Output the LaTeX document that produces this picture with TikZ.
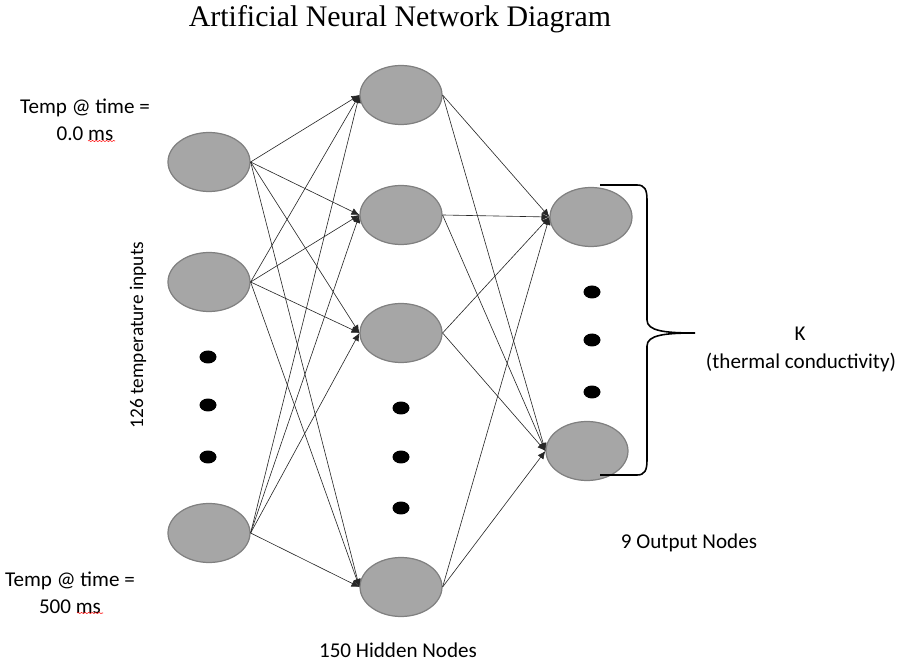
\documentclass[tikz,border=0pt]{standalone}
\usepackage{fontspec}
\setmainfont{Carlito}
\newfontfamily\titlefont{Liberation Serif}
\usetikzlibrary{arrows.meta,positioning,calc,shapes,decorations.pathmorphing}
\tikzset{>={Latex[length=4.5pt,width=4pt]}}
\tikzset{
  neuron/.style={ellipse,draw=black!50,line width=0.7pt,fill=black!35,
    minimum width=1.64cm,minimum height=1.18cm,inner sep=0pt},
  vdot/.style={ellipse,fill=black,minimum width=0.34cm,minimum height=0.26cm,inner sep=0pt},
  lbl/.style={font=\fontsize{12}{14.5}\selectfont,inner sep=0pt}
}

\begin{document}
\begin{tikzpicture}[x=0.02cm,y=-0.02cm]
\useasboundingbox (0,0) rectangle (903,665);
\node[font=\titlefont\fontsize{17}{20}\selectfont] (title) at (400,19) {Artificial Neural Network Diagram};
% input layer
\node[neuron] (i1) at (209,162) {};
\node[neuron] (i2) at (209,282) {};
\node[neuron] (i3) at (209,533) {};
\node[vdot] (id1) at (208,357) {};
\node[vdot] (id2) at (208,405) {};
\node[vdot] (id3) at (208,457) {};
% hidden layer
\node[neuron] (h1) at (401,95) {};
\node[neuron] (h2) at (401,215) {};
\node[neuron] (h3) at (401,333) {};
\node[neuron] (h4) at (401,587) {};
\node[vdot] (hd1) at (401,408) {};
\node[vdot] (hd2) at (401,457) {};
\node[vdot] (hd3) at (401,508) {};
% output layer
\node[neuron] (o1) at (591,217) {};
\node[neuron] (o2) at (587,451) {};
\node[vdot] (od1) at (592,292) {};
\node[vdot] (od2) at (592,340) {};
\node[vdot] (od3) at (592,392) {};
% labels
\node[lbl,align=center] (tin) at (85,120) {Temp @ time =\\[1pt]0.0 ms};
\node[lbl,align=center] (tout) at (70,593) {Temp @ time =\\[1pt]500 ms};
\node[lbl,rotate=90,font=\fontsize{11}{13}\selectfont] (ninp) at (138,335) {126 temperature inputs};
\node[lbl] (nhid) at (398,650) {150 Hidden Nodes};
\node[lbl] (nout) at (689,543) {9 Output Nodes};
\node[lbl] (k) at (800,334) {K};
\node[lbl] (kname) at (801,362) {(thermal conductivity)};
\begin{scope}[line width = 0.35pt,color=black!85]
\draw[->] (i1.east) to (h1.west);
\draw[->] (i1.east) to (h2.west);
\draw[->] (i1.east) to (h3.west);
\draw[->] (i1.east) to (h4.west);
\draw[->] (i2.east) to (h1.west);
\draw[->] (i2.east) to (h2.west);
\draw[->] (i2.east) to (h3.west);
\draw[->] (i2.east) to (h4.west);
\draw[->] (i3.east) to (h1.west);
\draw[->] (i3.east) to (h2.west);
\draw[->] (i3.east) to (h3.west);
\draw[->] (i3.east) to (h4.west);
\draw[->] (h1.east) to (o1.west);
\draw[->] (h1.east) to (o2.west);
\draw[->] (h2.east) to (o1.west);
\draw[->] (h2.east) to (o2.west);
\draw[->] (h3.east) to (o1.west);
\draw[->] (h3.east) to (o2.west);
\draw[->] (h4.east) to (o1.west);
\draw[->] (h4.east) to (o2.west);
\end{scope}
% brace
\draw[line width=0.9pt] (600,185) -- (637,185) .. controls (645,185) and (647,190) .. (647,200)
  -- (647,320) .. controls (647,331) and (665,333) .. (695,333)
  .. controls (665,333) and (647,335) .. (647,346)
  -- (647,460) .. controls (647,470) and (645,475) .. (637,475) -- (600,475);
% spell-check marks
\draw[red,line width=0.3pt,decorate,decoration={snake,amplitude=0.3pt,segment length=2pt}] (88,141) -- (115,141);
\draw[red,line width=0.3pt,decorate,decoration={snake,amplitude=0.3pt,segment length=2pt}] (77,613) -- (103,613);
%\draw[help lines] (0,0) grid (903,665);
\end{tikzpicture}
\end{document}
